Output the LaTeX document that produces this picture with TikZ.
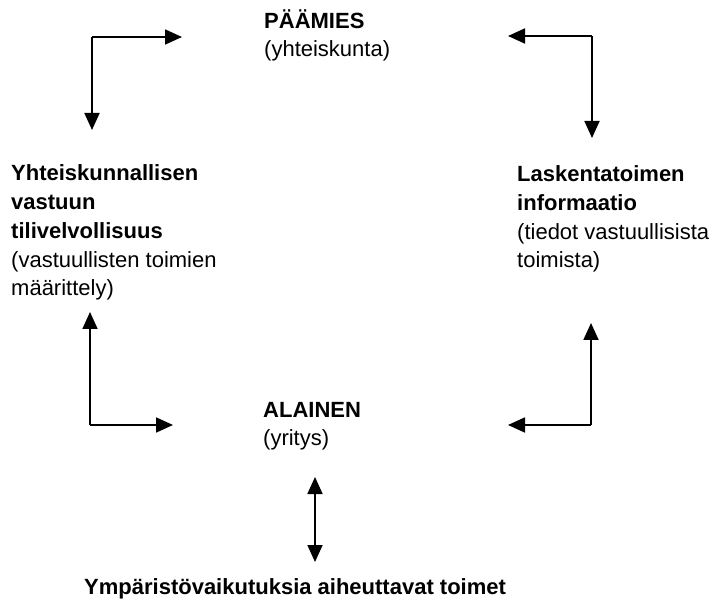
\documentclass[tikz,border=0pt]{standalone}
\usepackage{fontspec}
\setmainfont{Liberation Sans}
\usetikzlibrary{arrows.meta}
\begin{document}
\begin{tikzpicture}[x=1pt,y=-1pt,
  % the base anchor of a multi-line node sits on its last line
  txt/.style={anchor=base west,inner sep=0pt,align=left,
    font=\fontsize{22}{28.8}\selectfont},
  tip/.style={Triangle[length=17pt,width=15pt]},
  link/.style={line width=1.8pt,-{Triangle[length=17pt,width=15pt]}},
  twoway/.style={line width=1.8pt,{Triangle[length=17pt,width=15pt]}-{Triangle[length=17pt,width=15pt]}}]
\useasboundingbox (0,0) rectangle (715,601);

% texts
\node[txt] (principal) at (264,57) {\textbf{PÄÄMIES}\\(yhteiskunta)};
\node[txt] (agent) at (263,446) {\textbf{ALAINEN}\\(yritys)};
\node[txt] (duty) at (11,296) {\textbf{Yhteiskunnallisen}\\\textbf{vastuun}\\\textbf{tilivelvollisuus}\\(vastuullisten toimien\\määrittely)};
\node[txt] (info) at (517,268) {\textbf{Laskentatoimen}\\\textbf{informaatio}\\(tiedot vastuullisista\\toimista)};
\node[txt] (acts) at (84,594) {\textbf{Ympäristövaikutuksia aiheuttavat toimet}};

% elbow connectors
\coordinate (tlc) at (92,37);
\coordinate (tlr) at (182,37);
\coordinate (tld) at (92,130);
\draw[link] (tlc) -- (tlr);
\draw[link] (tlc) -- (tld);

\coordinate (trc) at (592,36);
\coordinate (trl) at (508,36);
\coordinate (trd) at (592,138);
\draw[link] (trc) -- (trl);
\draw[link] (trc) -- (trd);

\coordinate (blc) at (90,425);
\coordinate (blu) at (90,312);
\coordinate (blr) at (173,425);
\draw[link] (blc) -- (blu);
\draw[link] (blc) -- (blr);

\coordinate (brc) at (591,425);
\coordinate (bru) at (591,323);
\coordinate (brl) at (508,425);
\draw[link] (brc) -- (bru);
\draw[link] (brc) -- (brl);

\coordinate (mt) at (315,477);
\coordinate (mb) at (315,562);
\draw[twoway] (mt) -- (mb);
\end{tikzpicture}
\end{document}
